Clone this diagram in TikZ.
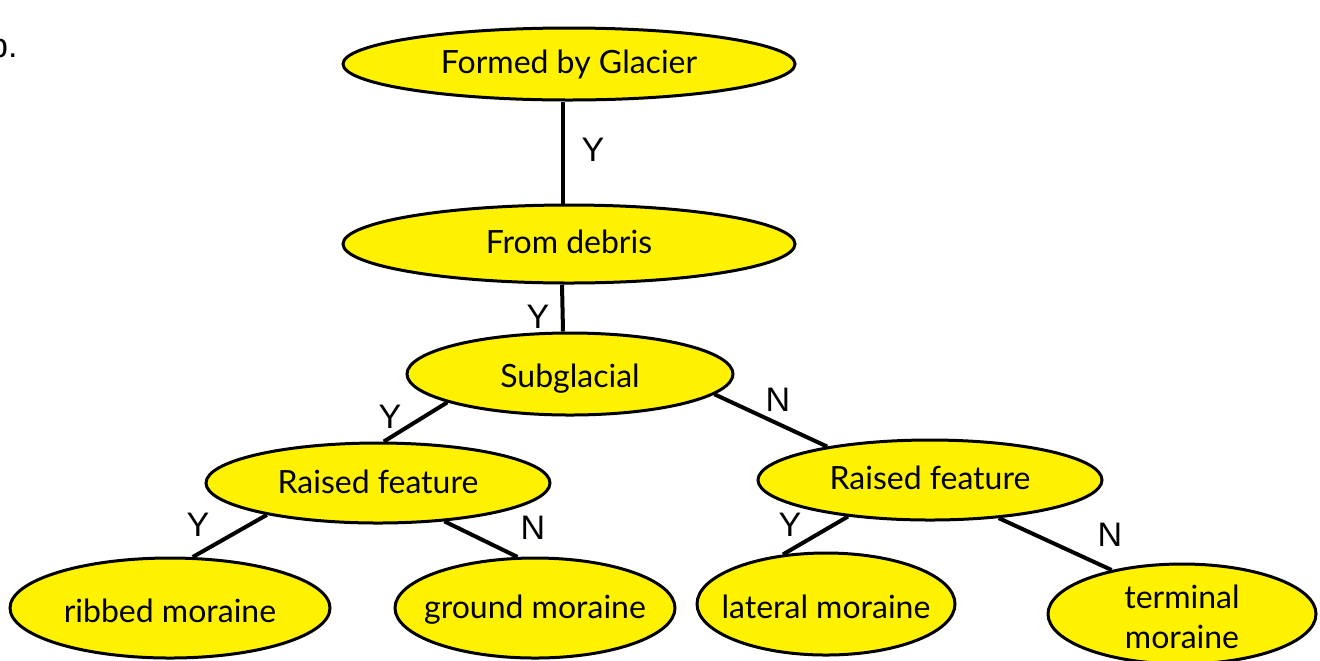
\documentclass[tikz,border=0pt]{standalone}
\usepackage{fontspec}
\setmainfont{Lato}
\newfontfamily\labfont{Liberation Sans}
\usetikzlibrary{shapes.geometric}
\newcommand\ctxt[2]{\makebox[0pt]{\raisebox{#1}[0pt][0pt]{#2}}}
\begin{document}
\begin{tikzpicture}[x=0.5pt,y=-0.5pt,
  bubble/.style={ellipse, draw=black, line width=1.5pt, fill=yellow, inner sep=0pt,
    font=\fontsize{16}{19.5}\selectfont},
  edge/.style={line width=2pt},
  yn/.style={font=\labfont\fontsize{17}{20}\selectfont, inner sep=0pt}]
\useasboundingbox (0,0) rectangle (1320,660);
\clip (0,0) rectangle (1320,660);

\node[yn, anchor=east] (b) at (18,45) {b.};

\node[bubble, minimum width=226pt, minimum height=36pt] (top) at (569,64) {\ctxt{-4.6pt}{Formed by Glacier}};
\node[bubble, minimum width=226pt, minimum height=39pt] (deb) at (569,244) {\ctxt{-4.5pt}{From debris}};
\node[bubble, minimum width=163pt, minimum height=41pt] (sub) at (570,374) {\ctxt{-6.9pt}{Subglacial}};
\node[bubble, minimum width=172pt, minimum height=40pt] (rl) at (378,483) {\ctxt{-5pt}{Raised feature}};
\node[bubble, minimum width=172pt, minimum height=40pt] (rr) at (930,480) {\ctxt{-4.5pt}{Raised feature}};
\node[bubble, minimum width=160pt, minimum height=50pt] (rib) at (170,608) {\ctxt{-7pt}{ribbed moraine}};
\node[bubble, minimum width=140pt, minimum height=50pt] (gro) at (535,608) {\ctxt{-5.4pt}{ground moraine}};
\node[bubble, minimum width=129pt, minimum height=51pt] (lat) at (826,604) {\ctxt{-7pt}{lateral moraine}};
\node[bubble, minimum width=134pt, minimum height=50pt] (ter) at (1182,614) {\ctxt{-7.5pt}{\begin{tabular}{@{}c@{}}terminal\\[0.5pt]moraine\end{tabular}}};

\draw[edge] ([xshift=-3pt]top.south) -- ([xshift=-3pt]deb.north);
\draw[edge] ([xshift=-3.5pt]deb.south) -- ([xshift=-3.5pt]sub.north);
\draw[edge] (sub.193.9) -- (rl.82.9);
\draw[edge] (sub.352.4) -- (rr.162.7);
\draw[edge] (rl.196.5) -- (rib.66.7);
\draw[edge] (rl.330.5) -- (gro.109.8);
\draw[edge] (rr.204.8) -- (lat.131.3);
\draw[edge] (rr.331.5) -- (ter.148.7);

\node[yn] (l1) at (593,150) {Y};
\node[yn] (l2) at (538,317) {Y};
\node[yn] (l3) at (390,417) {Y};
\node[yn] (l4) at (778,400) {N};
\node[yn] (l5) at (198,525) {Y};
\node[yn] (l6) at (533,528) {N};
\node[yn] (l7) at (790,525) {Y};
\node[yn] (l8) at (1110,535) {N};
\end{tikzpicture}
\end{document}
